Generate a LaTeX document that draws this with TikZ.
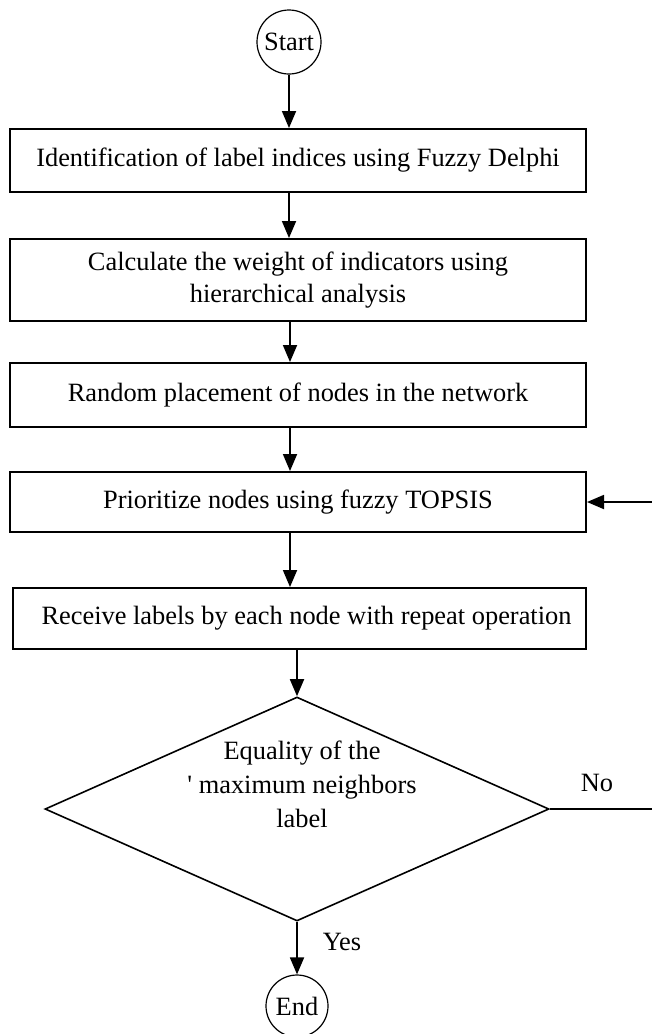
\documentclass[tikz,border=0pt]{standalone}
\usepackage{fontspec}
\setmainfont{Liberation Serif}
\usetikzlibrary{arrows.meta, positioning, shapes.geometric}

\tikzset{
  process/.style={draw, rectangle, line width=1pt, minimum width=288pt, inner sep=2pt, align=center},
  terminal/.style={draw, circle, line width=0.6pt, minimum size=31pt, inner sep=0pt},
  decision/.style={draw, diamond, line width=0.8pt, minimum width=252pt, minimum height=112pt, inner sep=0pt},
  flow/.style={-{Triangle[length=8.5pt,width=7pt]}, line width=0.9pt},
}

\begin{document}
\begin{tikzpicture}[x=0.5pt, y=-0.5pt, font=\fontsize{13.2}{16}\selectfont]
    \useasboundingbox (0,0) rectangle (652,1034);

    % Start and end
    \node[terminal, minimum size=32pt] (start) at (289, 42) {Start};
    \node[terminal] (end) at (297, 1006) {End};

    % Steps
    \node[process, minimum height=31.5pt] (s1) at (298, 160.5) {Identification of label indices using Fuzzy Delphi};
    \node[process, minimum height=41pt] (s2) at (298, 280) {Calculate the weight of indicators using\\hierarchical analysis};
    \node[process, minimum height=32pt] (s3) at (298, 395) {Random placement of nodes in the network};
    \node[process, minimum height=30pt] (s4) at (298, 502) {Prioritize nodes using fuzzy TOPSIS};
    \node[process, minimum height=30.5pt, minimum width=286.5pt] (s5) at (299.5, 618.5) {\hspace{7pt}Receive labels by each node with repeat operation};

    % Decision
    \node[decision] (dec) at (297, 809) {};
    \node[align=center, font=\fontsize{13.2}{17}\selectfont] (dectext) at (302, 784) {Equality of the\\\textquotesingle{} maximum neighbors\\label};

    % Arrows
    \draw[flow] (start.south) -- (start.south |- s1.north);
    \draw[flow] (start.south |- s1.south) -- (start.south |- s2.north);
    \draw[flow] (290, 0 |- s2.south) -- (290, 0 |- s3.north);
    \draw[flow] (290, 0 |- s3.south) -- (290, 0 |- s4.north);
    \draw[flow] (290, 0 |- s4.south) -- (290, 0 |- s5.north);
    \draw[flow] (dec.north |- s5.south) -- (dec.north);
    \draw[flow] (dec.south) -- (end.north);
    \draw[flow] (dec.east) -- ++(111, 0) |- (s4.east);

    \node (yes) at (342, 942) {Yes};
    \node (no) at (597, 783) {No};
\end{tikzpicture}
\end{document}
